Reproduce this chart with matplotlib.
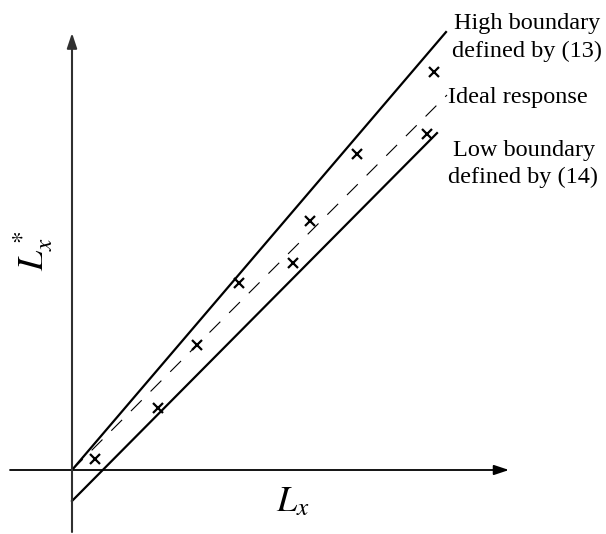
import numpy as np
import matplotlib
matplotlib.use('Agg')
import matplotlib.pyplot as plt

plt.rcParams['font.family'] = ['Liberation Serif', 'DejaVu Serif']
plt.rcParams['mathtext.fontset'] = 'stix'
plt.rcParams['lines.scale_dashes'] = False

# measured responses (L_x, L_x*)
lx = [0.23, 0.86, 1.25, 1.67, 2.21, 2.38, 2.85, 3.55, 3.62]
lx_star = [0.11, 0.62, 1.25, 1.87, 2.07, 2.49, 3.16, 3.36, 3.98]

# boundary lines: slope, intercept, x end
high_k, high_b, high_end = 1.171, 0.0, 3.74
ideal_k, ideal_b, ideal_end = 1.0, 0.0, 3.75
low_k, low_b, low_end = 1.008, -0.31, 3.65

fig = plt.figure(figsize=(6.06, 5.34), dpi=100)
ax = fig.add_axes([0, 0, 1, 1])
ax.set_xlim(-0.72, 5.34)
ax.set_ylim(-0.64, 4.70)
ax.axis('off')

# axes with arrow heads
ax.annotate('', xy=(4.37, 0), xytext=(-0.62, 0),
            arrowprops=dict(arrowstyle='-|>,head_length=0.9,head_width=0.3', color='black', lw=1.3,
                            shrinkA=0, shrinkB=0))
ax.annotate('', xy=(0, 4.37), xytext=(0, -0.62),
            arrowprops=dict(arrowstyle='-|>,head_length=0.9,head_width=0.3', color='#303030', lw=1.5,
                            shrinkA=0, shrinkB=0))

x = np.array([0, high_end])
ax.plot(x, high_k * x + high_b, color='black', lw=1.6)
x = np.array([0, ideal_end])
ax.plot(x, ideal_k * x + ideal_b, color='black', lw=0.8, linestyle=(0, (11, 9)))
x = np.array([0, low_end])
ax.plot(x, low_k * x + low_b, color='black', lw=1.6)

ax.plot(lx, lx_star, linestyle='none', marker='x', color='black', markersize=7, mew=1.6)

fs = 17.5
ax.text(4.555, 4.41, 'High boundary', ha='center', va='baseline', fontsize=fs)
ax.text(4.555, 4.13, 'defined by (13)', ha='center', va='baseline', fontsize=fs)
ax.text(3.76, 3.67, 'Ideal response', ha='left', va='baseline', fontsize=fs)
ax.text(4.525, 3.14, 'Low boundary', ha='center', va='baseline', fontsize=fs)
ax.text(4.515, 2.87, 'defined by (14)', ha='center', va='baseline', fontsize=fs)

ax.text(2.21, -0.33, '$L_x$', ha='center', va='center', fontsize=26)
ax.text(-0.39, 2.19, '$L_x^*$', ha='center', va='center', fontsize=26, rotation=90)

fig.savefig('out.png', dpi=100)
